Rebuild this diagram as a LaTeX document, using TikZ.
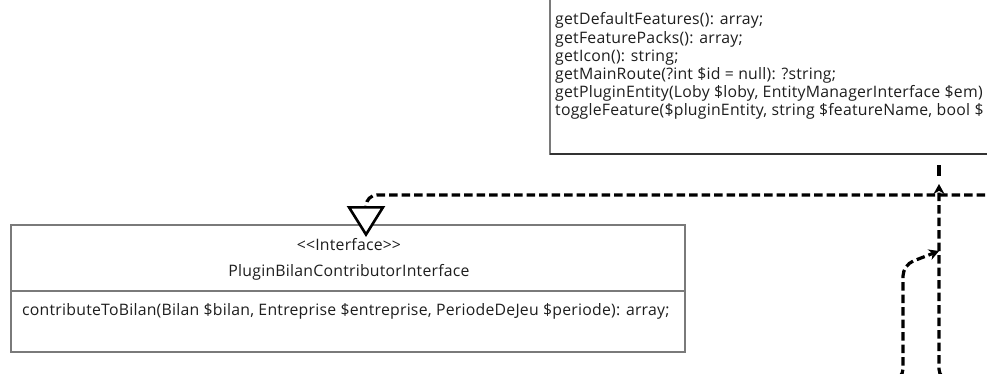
\documentclass[tikz,border=0pt]{standalone}
\usepackage{fontspec}
\setmainfont{Open Sans}
\newfontfamily\umlfont{Open Sans}[LetterSpace=1.5]
\usetikzlibrary{arrows.meta}
\definecolor{boxline}{HTML}{7A7A7A}
\definecolor{txt}{HTML}{1E1E1E}
\tikzset{
  classbox/.style={draw=boxline, line width=1.1pt, fill=white, inner sep=0pt, outer sep=0pt},
  optext/.style={font=\umlfont\fontsize{15.8}{18}\selectfont, text=txt, inner sep=0pt, anchor=base west},
  ctext/.style={font=\umlfont\fontsize{15.8}{18}\selectfont, text=txt, inner sep=0pt, anchor=base},
  dep/.style={draw=black, line width=3.2pt, dash pattern=on 8.5pt off 4pt, rounded corners=11pt},
  realize/.style={dep, -{Triangle[fill=white, length=31pt, width=38pt, line width=2.6pt]}},
  usearrow/.style={dep, -{Stealth[length=10pt, width=11pt]}},
}
\begin{document}
\begin{tikzpicture}[x=1pt, y=-1pt]
\useasboundingbox (0,0) rectangle (987,374);
\fill[white] (0,0) rectangle (987,374);

% service class (only its lower part lies in view)
\node[classbox, minimum width=470pt, minimum height=200pt, anchor=south west] (svc) at (550,154) {};
\draw[black!80, line width=1.8pt] (svc.south west) -- (svc.south east);
\foreach \n/\y/\t in {
  op1/25/{getDefaultFeatures(): array;},
  op2/43.2/{getFeaturePacks(): array;},
  op3/61.4/{getIcon(): string;},
  op4/79.6/{getMainRoute(?int \$id = null): ?string;},
  op5/97.8/{getPluginEntity(Loby \$loby, EntityManagerInterface \$em)},
  op6/116/{toggleFeature(\$pluginEntity, string \$featureName, bool \$}}
  \node[optext] (\n) at (555,\y) {\t};

% interface class
\node[classbox, minimum width=674pt, minimum height=127pt, anchor=north west] (bilan) at (11,225) {};
\coordinate (bilandiv west) at (11,291);
\coordinate (bilandiv east) at (685,291);
\draw[boxline, line width=1.1pt] (bilandiv west) -- (bilandiv east);
\node[ctext] (stereo) at (349,250) {<\kern0pt<Interface>\kern0pt>};
\node[ctext] (bname) at (349,276) {PluginBilanContributorInterface};
\node[optext] (bop) at (22,315) {contributeToBilan(Bilan \$bilan, Entreprise \$entreprise, PeriodeDeJeu \$periode): array;};

% connector end points
\coordinate (tip) at (366,237);
\coordinate (farright) at (1010,195);
\coordinate (bend) at (366,195);
\coordinate (trunkbottom) at (965,380);
\coordinate (trunkfoot) at (939,380);
\coordinate (trunkarrow) at (939,184);
\coordinate (trunkstub) at (939,176);
\coordinate (trunktop) at (939,165);
\coordinate (branchbottom) at (875,380);
\coordinate (branchfoot) at (903,380);
\coordinate (branchknee) at (903,265);
\coordinate (branchtip) at (939,251);

% realization towards the interface
\draw[realize] (farright) -- (bend) -- (tip);
% vertical trunk below the service class
\draw[usearrow] (trunkbottom) -- (trunkfoot) -- (trunkarrow);
\draw[dep, dash pattern=on 11pt off 0pt] (trunkstub) -- (trunktop);
% branch joining the trunk
\draw[usearrow] (branchbottom) -- (branchfoot) -- (branchknee) -- (branchtip);
\end{tikzpicture}
\end{document}
